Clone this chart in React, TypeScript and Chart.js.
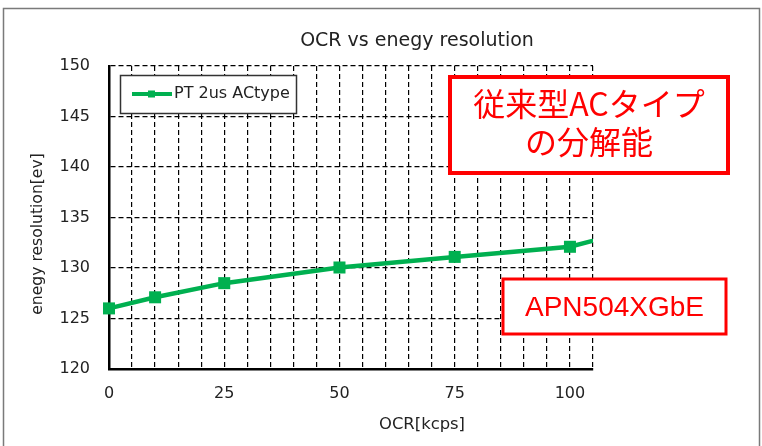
import React, { useEffect, useRef } from "react";
import { Chart, registerables } from "chart.js";

Chart.register(...registerables);

const ocrValues = [0, 10, 25, 50, 75, 100, 125];
const resolutionValues = [126, 127.1, 128.5, 130.05, 131.1, 132.1, 135.1];
const seriesName = "PT 2us ACtype";
const chartTitle = "OCR vs enegy resolution";
const xTitle = "OCR[kcps]";
const yTitle = "enegy resolution[ev]";
const noteJa = ["従来型ACタイプ", "の分解能"];
const noteModel = "APN504XGbE";
const xLabelStep = 25;

const FONT = "'DejaVu Sans', Verdana, sans-serif";
const GREEN = "#00b050";
const TEXT = "#222222";

const overlayPlugin = {
  id: "overlay",
  afterDraw(chart: any) {
    const ctx = chart.ctx as CanvasRenderingContext2D;
    ctx.save();
    // outer frame
    ctx.strokeStyle = "#7a7a7a";
    ctx.lineWidth = 1.5;
    ctx.strokeRect(3.5, 8.5, 756, 445);

    // title
    ctx.fillStyle = TEXT;
    ctx.textAlign = "center";
    ctx.textBaseline = "middle";
    ctx.font = `19px ${FONT}`;
    ctx.fillText(chartTitle, 417, 41);

    // x title
    ctx.font = `16.4px ${FONT}`;
    ctx.fillText(xTitle, 422, 425);

    // y title
    ctx.save();
    ctx.translate(38, 234);
    ctx.rotate(-Math.PI / 2);
    ctx.font = `15.6px ${FONT}`;
    ctx.fillText(yTitle, 0, 0);
    ctx.restore();

    // legend
    ctx.fillStyle = "#ffffff";
    ctx.fillRect(120, 75, 176, 38);
    ctx.strokeStyle = "#333333";
    ctx.lineWidth = 1.5;
    ctx.strokeRect(120.5, 75.5, 176, 38);
    ctx.strokeStyle = GREEN;
    ctx.lineWidth = 4;
    ctx.beginPath();
    ctx.moveTo(132, 94);
    ctx.lineTo(172, 94);
    ctx.stroke();
    ctx.fillStyle = GREEN;
    ctx.fillRect(148, 90.5, 7, 7);
    ctx.fillStyle = TEXT;
    ctx.textAlign = "left";
    ctx.font = `16px ${FONT}`;
    ctx.fillText(seriesName, 174, 94);

    // annotation box 1
    ctx.fillStyle = "#ffffff";
    ctx.fillRect(450, 77, 278, 96);
    ctx.strokeStyle = "#ff0000";
    ctx.lineWidth = 4;
    ctx.strokeRect(450, 77, 278, 96);
    ctx.fillStyle = "#ff0000";
    ctx.textAlign = "center";
    ctx.font = `32px 'Noto Sans CJK JP', sans-serif`;
    ctx.fillText(noteJa[0], 589, 104);
    ctx.fillText(noteJa[1], 589, 142);

    // annotation box 2
    ctx.fillStyle = "#ffffff";
    ctx.fillRect(503, 279, 223, 55);
    ctx.strokeStyle = "#ff0000";
    ctx.lineWidth = 3;
    ctx.strokeRect(503, 279, 223, 55);
    ctx.fillStyle = "#ff0000";
    ctx.font = `28px 'Liberation Sans', Arial, sans-serif`;
    ctx.fillText(noteModel, 614.5, 308);

    ctx.restore();
  },
};

export default function App() {
  const ref = useRef<HTMLCanvasElement | null>(null);

  useEffect(() => {
    if (!ref.current) return;
    const chart = new Chart(ref.current, {
      type: "line",
      data: {
        datasets: [
          {
            label: seriesName,
            data: ocrValues.map((x, i) => ({ x, y: resolutionValues[i] })),
            borderColor: GREEN,
            backgroundColor: GREEN,
            borderWidth: 4.5,
            pointStyle: "rect",
            pointRadius: 8.5,
            pointBorderWidth: 0,
            tension: 0,
            clip: { left: 12, top: 12, right: 0, bottom: 12 },
          },
        ],
      },
      options: {
        responsive: false,
        animation: false,
        layout: { padding: { left: 0, right: 169, top: 66, bottom: 0 } },
        plugins: {
          legend: { display: false },
          title: { display: false },
          tooltip: { enabled: false },
        },
        scales: {
          x: {
            type: "linear",
            min: 0,
            max: 105,
            afterFit: (s: any) => {
              s.height = 77;
            },
            ticks: {
              stepSize: 5,
              autoSkip: false,
              maxRotation: 0,
              padding: 15,
              color: TEXT,
              font: { family: FONT, size: 16 },
              callback: (v: any) => (Number(v) % xLabelStep === 0 ? String(v) : ""),
            },
            grid: {
              color: "#000000",
              lineWidth: 1.2,
              drawTicks: false,
            },
            border: { display: true, color: "#000000", width: 2.5, dash: [5, 3] },
          },
          y: {
            min: 120,
            max: 150,
            afterFit: (s: any) => {
              s.width = 109;
            },
            ticks: {
              stepSize: 5,
              padding: 19,
              color: TEXT,
              font: { family: FONT, size: 16 },
            },
            grid: {
              color: "#000000",
              lineWidth: 1.2,
              drawTicks: false,
            },
            border: { display: true, color: "#000000", width: 2.5, dash: [5, 3] },
          },
        },
      },
      plugins: [overlayPlugin],
    });
    return () => chart.destroy();
  }, []);

  return (
    <div style={{ position: "absolute", left: 0, top: 0, width: 762, height: 446, background: "#fff" }}>
      <canvas ref={ref} width={762} height={446} />
    </div>
  );
}
